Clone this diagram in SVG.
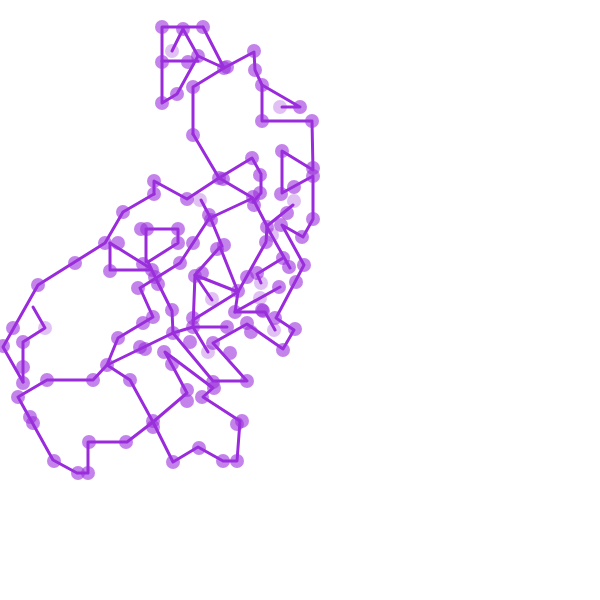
<svg xmlns="http://www.w3.org/2000/svg" width="600" height="600" viewBox="0 0 600 600">
<style>
.e{fill:none;stroke:#9a2bdc;stroke-width:3;stroke-linecap:round;stroke-linejoin:round}
.n{fill:#9b30dc;fill-opacity:0.6}
.l{fill:#9b30dc;fill-opacity:0.3}
</style>
<rect width="600" height="600" fill="#fff"/>
<g id="connectors" class="e">
<polyline points="203,27 162,27 162,103 177,94 198,56 183,29 172,51"/>
<polyline points="162,61 198,61"/>
<polyline points="203,27 224,68 198,56"/>
<polyline points="193,134 193,87 224,68 254,52 255,70 262,85 300,107 282,107"/>
<polyline points="262,85 262,121 312,121 313,170 282,151 282,193 313,176 313,219 303,237 282,225 304,265 276,318 294,330 283,349 247,324 213,343 247,381 213,381 173,333"/>
<polyline points="193,134 219,178 252,158 261,174 261,193 253,202"/>
<polyline points="219,178 253,198 210,218"/>
<polyline points="253,199 267,226 293,205"/>
<polyline points="267,226 266,242 238,292 235,312 280,287"/>
<polyline points="267,227 290,268"/>
<polyline points="283,258 257,274 261,283"/>
<polyline points="235,312 265,312 275,330"/>
<polyline points="193,320 238,292 195,275 220,247 238,292"/>
<polyline points="212,300 195,275 193,327 227,327"/>
<polyline points="193,327 208,352"/>
<polyline points="173,333 193,327"/>
<polyline points="201,200 210,217 222,246"/>
<polyline points="210,217 180,263 140,288 153,317 118,338 107,365"/>
<polyline points="154,194 154,181 187,199 219,178"/>
<polyline points="154,194 123,212 105,243 38,285 3,347 23,382"/>
<polyline points="33,307 45,328 23,342 23,382"/>
<polyline points="110,243 110,270 150,270"/>
<polyline points="110,243 150,268"/>
<polyline points="146,262 146,229 178,229 178,243 148,262 158,283 172,311 173,333 107,365 93,380 47,380 18,397 53,460 77,473 88,473 88,442 127,442 153,422 173,462 198,447 223,461 237,461 240,421 203,397 213,388 165,352 187,393 153,422 130,380 107,365"/>
</g>
<g id="nodes">
<circle id="n1" class="n" cx="162" cy="27" r="7"/>
<circle id="n2" class="n" cx="183" cy="29" r="7"/>
<circle id="n3" class="n" cx="203" cy="27" r="7"/>
<circle id="n4" class="l" cx="172" cy="51" r="7"/>
<circle id="n5" class="n" cx="162" cy="62" r="7"/>
<circle id="n6" class="n" cx="188" cy="62" r="7"/>
<circle id="n7" class="n" cx="198" cy="56" r="7"/>
<circle id="n8" class="n" cx="224" cy="68" r="7"/>
<circle id="n9" class="n" cx="227" cy="67" r="7"/>
<circle id="n10" class="n" cx="254" cy="51" r="7"/>
<circle id="n11" class="n" cx="255" cy="70" r="7"/>
<circle id="n12" class="n" cx="262" cy="85" r="7"/>
<circle id="n13" class="l" cx="280" cy="107" r="7"/>
<circle id="n14" class="n" cx="300" cy="107" r="7"/>
<circle id="n15" class="n" cx="262" cy="121" r="7"/>
<circle id="n16" class="n" cx="312" cy="121" r="7"/>
<circle id="n17" class="n" cx="193" cy="87" r="7"/>
<circle id="n18" class="n" cx="177" cy="94" r="7"/>
<circle id="n19" class="n" cx="162" cy="103" r="7"/>
<circle id="n20" class="n" cx="193" cy="135" r="7"/>
<circle id="n21" class="n" cx="282" cy="151" r="7"/>
<circle id="n22" class="n" cx="252" cy="158" r="7"/>
<circle id="n23" class="n" cx="313" cy="168" r="7"/>
<circle id="n24" class="n" cx="313" cy="176" r="7"/>
<circle id="n25" class="n" cx="260" cy="175" r="7"/>
<circle id="n26" class="n" cx="219" cy="178" r="7"/>
<circle id="n27" class="n" cx="223" cy="179" r="7"/>
<circle id="n28" class="n" cx="294" cy="187" r="7"/>
<circle id="n29" class="n" cx="281" cy="194" r="7"/>
<circle id="n30" class="n" cx="260" cy="193" r="7"/>
<circle id="n31" class="n" cx="253" cy="197" r="7"/>
<circle id="n32" class="n" cx="254" cy="205" r="7"/>
<circle id="n33" class="l" cx="294" cy="201" r="7"/>
<circle id="n34" class="n" cx="187" cy="199" r="7"/>
<circle id="n35" class="l" cx="200" cy="200" r="7"/>
<circle id="n36" class="n" cx="209" cy="215" r="7"/>
<circle id="n37" class="n" cx="211" cy="220" r="7"/>
<circle id="n38" class="n" cx="287" cy="213" r="7"/>
<circle id="n39" class="n" cx="313" cy="219" r="7"/>
<circle id="n40" class="n" cx="267" cy="227" r="7"/>
<circle id="n41" class="n" cx="281" cy="225" r="7"/>
<circle id="n42" class="l" cx="272" cy="235" r="7"/>
<circle id="n43" class="n" cx="266" cy="242" r="7"/>
<circle id="n44" class="n" cx="302" cy="237" r="7"/>
<circle id="n45" class="n" cx="178" cy="229" r="7"/>
<circle id="n46" class="n" cx="178" cy="243" r="7"/>
<circle id="n47" class="n" cx="193" cy="243" r="7"/>
<circle id="n48" class="n" cx="217" cy="249" r="7"/>
<circle id="n49" class="n" cx="224" cy="245" r="7"/>
<circle id="n50" class="n" cx="283" cy="258" r="7"/>
<circle id="n51" class="n" cx="289" cy="267" r="7"/>
<circle id="n52" class="n" cx="304" cy="265" r="7"/>
<circle id="n53" class="n" cx="154" cy="181" r="7"/>
<circle id="n54" class="n" cx="154" cy="194" r="7"/>
<circle id="n55" class="n" cx="123" cy="212" r="7"/>
<circle id="n56" class="n" cx="105" cy="243" r="7"/>
<circle id="n57" class="n" cx="118" cy="243" r="7"/>
<circle id="n58" class="n" cx="75" cy="263" r="7"/>
<circle id="n59" class="n" cx="38" cy="285" r="7"/>
<circle id="n60" class="n" cx="147" cy="229" r="7"/>
<circle id="n61" class="n" cx="141" cy="229" r="7"/>
<circle id="n62" class="n" cx="110" cy="271" r="7"/>
<circle id="n63" class="n" cx="143" cy="264" r="7"/>
<circle id="n64" class="n" cx="152" cy="270" r="7"/>
<circle id="n65" class="n" cx="155" cy="277" r="7"/>
<circle id="n66" class="n" cx="180" cy="263" r="7"/>
<circle id="n67" class="n" cx="138" cy="288" r="7"/>
<circle id="n68" class="n" cx="158" cy="284" r="7"/>
<circle id="n69" class="n" cx="172" cy="310" r="7"/>
<circle id="n70" class="n" cx="153" cy="317" r="7"/>
<circle id="n71" class="n" cx="143" cy="323" r="7"/>
<circle id="n72" class="n" cx="173" cy="333" r="7"/>
<circle id="n73" class="n" cx="195" cy="276" r="7"/>
<circle id="n74" class="n" cx="202" cy="273" r="7"/>
<circle id="n75" class="l" cx="212" cy="299" r="7"/>
<circle id="n76" class="n" cx="238" cy="291" r="7"/>
<circle id="n77" class="n" cx="235" cy="312" r="7"/>
<circle id="n78" class="n" cx="193" cy="318" r="7"/>
<circle id="n79" class="n" cx="193" cy="327" r="7"/>
<circle id="n80" class="n" cx="227" cy="327" r="7"/>
<circle id="n81" class="n" cx="247" cy="277" r="7"/>
<circle id="n82" class="n" cx="257" cy="273" r="7"/>
<circle id="n83" class="l" cx="261" cy="283" r="7"/>
<circle id="n84" class="l" cx="260" cy="298" r="7"/>
<circle id="n85" class="n" cx="263" cy="311" r="7"/>
<circle id="n86" class="l" cx="274" cy="330" r="7"/>
<circle id="n87" class="n" cx="295" cy="329" r="7"/>
<circle id="n88" class="n" cx="279" cy="287" r="7"/>
<circle id="n89" class="n" cx="296" cy="282" r="7"/>
<circle id="n90" class="n" cx="275" cy="318" r="7"/>
<circle id="n91" class="n" cx="247" cy="323" r="7"/>
<circle id="n92" class="n" cx="251" cy="332" r="7"/>
<circle id="n93" class="n" cx="283" cy="350" r="7"/>
<circle id="n94" class="n" cx="213" cy="343" r="7"/>
<circle id="n95" class="l" cx="208" cy="352" r="7"/>
<circle id="n96" class="n" cx="230" cy="353" r="7"/>
<circle id="n97" class="n" cx="190" cy="342" r="7"/>
<circle id="n98" class="n" cx="164" cy="352" r="7"/>
<circle id="n99" class="n" cx="172" cy="364" r="7"/>
<circle id="n100" class="n" cx="187" cy="390" r="7"/>
<circle id="n101" class="n" cx="187" cy="401" r="7"/>
<circle id="n102" class="n" cx="213" cy="382" r="7"/>
<circle id="n103" class="n" cx="214" cy="388" r="7"/>
<circle id="n104" class="n" cx="247" cy="381" r="7"/>
<circle id="n105" class="n" cx="202" cy="397" r="7"/>
<circle id="n106" class="n" cx="242" cy="421" r="7"/>
<circle id="n107" class="n" cx="237" cy="424" r="7"/>
<circle id="n108" class="n" cx="237" cy="461" r="7"/>
<circle id="n109" class="n" cx="223" cy="461" r="7"/>
<circle id="n110" class="n" cx="199" cy="448" r="7"/>
<circle id="n111" class="n" cx="173" cy="462" r="7"/>
<circle id="n112" class="n" cx="153" cy="421" r="7"/>
<circle id="n113" class="n" cx="153" cy="427" r="7"/>
<circle id="n114" class="n" cx="126" cy="442" r="7"/>
<circle id="n115" class="n" cx="89" cy="442" r="7"/>
<circle id="n116" class="n" cx="88" cy="473" r="7"/>
<circle id="n117" class="n" cx="78" cy="473" r="7"/>
<circle id="n118" class="n" cx="54" cy="461" r="7"/>
<circle id="n119" class="n" cx="33" cy="423" r="7"/>
<circle id="n120" class="n" cx="30" cy="417" r="7"/>
<circle id="n121" class="n" cx="18" cy="397" r="7"/>
<circle id="n122" class="n" cx="23" cy="383" r="7"/>
<circle id="n123" class="n" cx="47" cy="380" r="7"/>
<circle id="n124" class="n" cx="93" cy="380" r="7"/>
<circle id="n125" class="n" cx="130" cy="380" r="7"/>
<circle id="n126" class="n" cx="107" cy="365" r="7"/>
<circle id="n127" class="n" cx="118" cy="338" r="7"/>
<circle id="n128" class="n" cx="140" cy="347" r="7"/>
<circle id="n129" class="n" cx="145" cy="349" r="7"/>
<circle id="n130" class="n" cx="23" cy="367" r="7"/>
<circle id="n131" class="n" cx="23" cy="342" r="7"/>
<circle id="n132" class="l" cx="45" cy="328" r="7"/>
<circle id="n133" class="n" cx="13" cy="328" r="7"/>
<circle id="n134" class="n" cx="3" cy="346" r="7"/>
<circle id="n135" class="n" cx="262" cy="310" r="7"/>
</g>
</svg>
